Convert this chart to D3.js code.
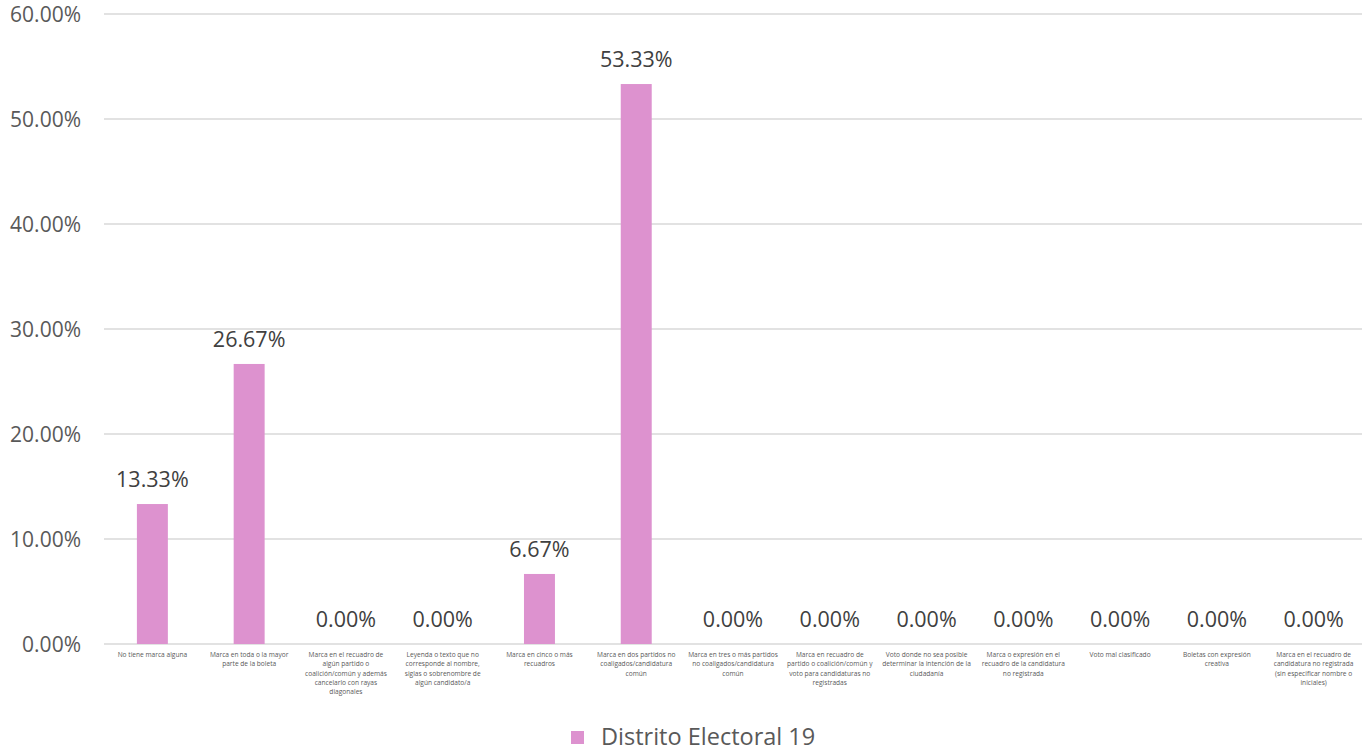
<!DOCTYPE html>
<html><head><meta charset="utf-8">
<script src="https://cdn.jsdelivr.net/npm/d3@7"></script>
<style>body{margin:0;background:#fff;} text{font-family:"Open Sans",sans-serif;}</style>
</head><body>
<svg id="chart" width="1369" height="752"></svg>
<script>
const categories = [
  "No tiene marca alguna",
  "Marca en toda o la mayor\nparte de la boleta",
  "Marca en el recuadro de\nalgún partido o\ncoalición/común y además\ncancelarlo con rayas\ndiagonales",
  "Leyenda o texto que no\ncorresponde al nombre,\nsiglas o sobrenombre de\nalgún candidato/a",
  "Marca en cinco o más\nrecuadros",
  "Marca en dos partidos no\ncoaligados/candidatura\ncomún",
  "Marca en tres o más partidos\nno coaligados/candidatura\ncomún",
  "Marca en recuadro de\npartido o coalición/común y\nvoto para candidaturas no\nregistradas",
  "Voto donde no sea posible\ndeterminar la intención de la\nciudadanía",
  "Marca o expresión en el\nrecuadro de la candidatura\nno registrada",
  "Voto mal clasificado",
  "Boletas con expresión\ncreativa",
  "Marca en el recuadro de\ncandidatura no registrada\n(sin especificar nombre o\niniciales)"
];
const values = [13.33, 26.67, 0, 0, 6.67, 53.33, 0, 0, 0, 0, 0, 0, 0];
const yTicks = [0, 10, 20, 30, 40, 50, 60];
const seriesName = "Distrito Electoral 19";

const svg = d3.select("#chart");
const margin = {left: 104, right: 1362, top: 14, bottom: 644};
const x = d3.scaleBand().domain(d3.range(categories.length)).range([margin.left, margin.right]).paddingInner(0.68).paddingOuter(0.34);
const y = d3.scaleLinear().domain([0, 60]).range([margin.bottom, margin.top]);

svg.append("g").selectAll("line").data(yTicks).join("line")
  .attr("x1", margin.left).attr("x2", margin.right)
  .attr("y1", d => y(d)).attr("y2", d => y(d))
  .attr("stroke", "#d9d9d9").attr("stroke-width", 1.3);

svg.append("g").selectAll("text").data(yTicks).join("text")
  .attr("x", 81).attr("y", d => y(d)).attr("dy", "0.36em")
  .attr("text-anchor", "end").attr("font-size", 21).attr("fill", "#595959")
  .text(d => d3.format(".2f")(d) + "%");

svg.append("g").selectAll("rect").data(values).join("rect")
  .attr("x", (d, i) => x(i)).attr("width", x.bandwidth())
  .attr("y", d => y(d)).attr("height", d => y(0) - y(d))
  .attr("fill", "#dd92cf");

svg.append("g").selectAll("text").data(values).join("text")
  .attr("x", (d, i) => x(i) + x.bandwidth() / 2).attr("y", d => y(d) - 17)
  .attr("text-anchor", "middle").attr("font-size", 21.5).attr("fill", "#404040")
  .text(d => d3.format(".2f")(d) + "%");

const cat = svg.append("g").selectAll("text").data(categories).join("text")
  .attr("text-anchor", "middle").attr("font-size", 6.6).attr("fill", "#595959")
  .attr("transform", (d, i) => `translate(${x(i) + x.bandwidth() / 2},657)`);
cat.each(function(d) {
  const t = d3.select(this);
  d.split("\n").forEach((line, k) => {
    t.append("tspan").attr("x", 0).attr("y", k * 9.3).text(line);
  });
});

const lg = svg.append("g");
lg.append("rect").attr("x", 571).attr("y", 731).attr("width", 13).attr("height", 13).attr("fill", "#dd92cf");
lg.append("text").attr("x", 601).attr("y", 745).attr("font-size", 23.5).attr("fill", "#595959").text(seriesName);
</script>
</body></html>
